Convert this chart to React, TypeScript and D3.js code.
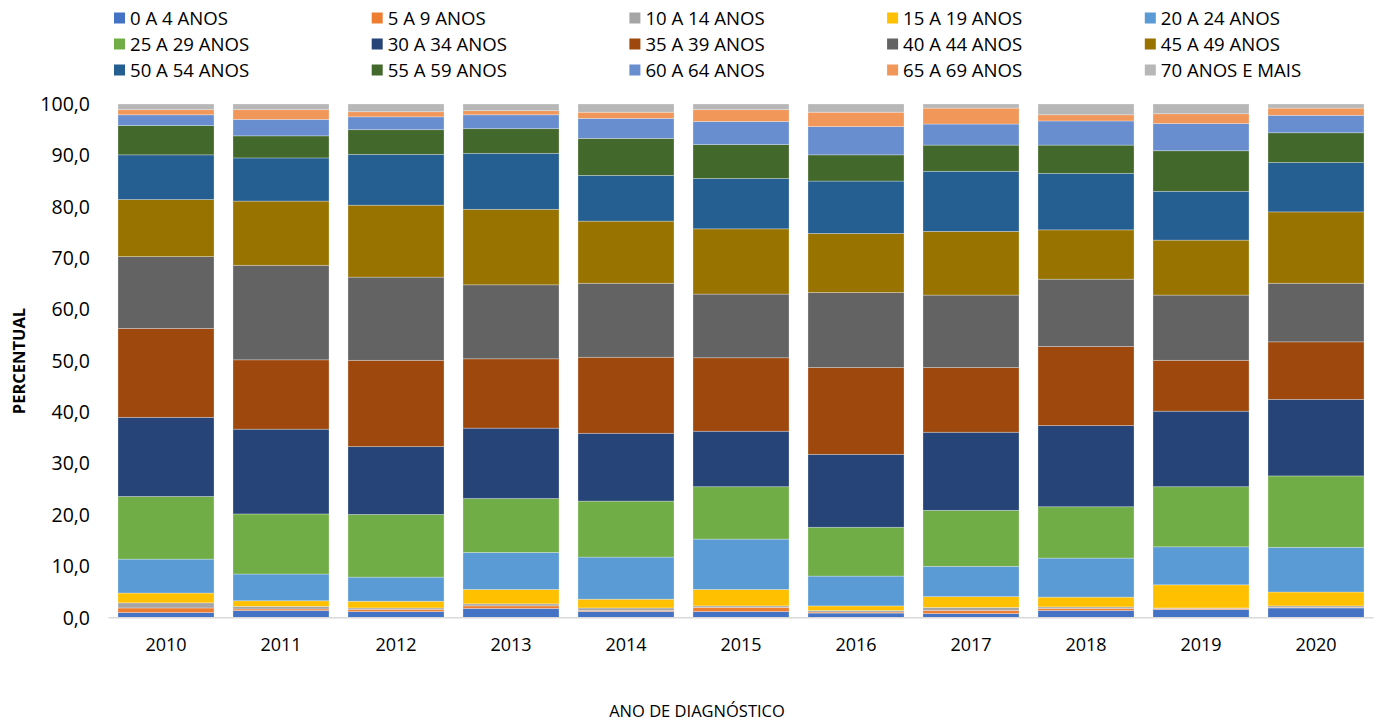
import React from 'react';
import * as d3 from 'd3';

const years = ['2010', '2011', '2012', '2013', '2014', '2015', '2016', '2017', '2018', '2019', '2020'];
const ageGroups = [
  '0 A 4 ANOS', '5 A 9 ANOS', '10 A 14 ANOS', '15 A 19 ANOS', '20 A 24 ANOS',
  '25 A 29 ANOS', '30 A 34 ANOS', '35 A 39 ANOS', '40 A 44 ANOS', '45 A 49 ANOS',
  '50 A 54 ANOS', '55 A 59 ANOS', '60 A 64 ANOS', '65 A 69 ANOS', '70 ANOS E MAIS',
];
const colors = [
  '#4472C4', '#ED7D31', '#A5A5A5', '#FFC000', '#5B9BD5',
  '#70AD47', '#264478', '#9E480E', '#636363', '#997300',
  '#255E91', '#43682B', '#698ED0', '#F1975A', '#B7B7B7',
];

const a0to4 = [1.0, 1.4, 1.2, 1.8, 1.2, 1.2, 0.9, 0.8, 1.4, 1.6, 1.9];
const a5to9 = [0.9, 0.3, 0.4, 0.5, 0.2, 0.8, 0.2, 0.6, 0.4, 0.2, 0.1];
const a10to14 = [1.0, 0.5, 0.3, 0.4, 0.5, 0.3, 0.3, 0.6, 0.3, 0.1, 0.3];
const a15to19 = [1.9, 1.1, 1.3, 2.8, 1.7, 3.2, 0.9, 2.1, 1.9, 4.5, 2.7];
const a20to24 = [6.6, 5.2, 4.7, 7.2, 8.2, 9.8, 5.8, 5.9, 7.6, 7.4, 8.7];
const a25to29 = [12.2, 11.7, 12.2, 10.5, 10.9, 10.2, 9.5, 10.9, 10.0, 11.7, 13.9];
const a30to34 = [15.4, 16.5, 13.2, 13.7, 13.2, 10.8, 14.2, 15.2, 15.8, 14.7, 14.9];
const a35to39 = [17.3, 13.5, 16.8, 13.5, 14.8, 14.3, 16.9, 12.6, 15.4, 9.9, 11.2];
const a40to44 = [14.0, 18.4, 16.2, 14.4, 14.4, 12.4, 14.6, 14.1, 13.1, 12.7, 11.4];
const a45to49 = [11.1, 12.5, 14.0, 14.7, 12.1, 12.7, 11.5, 12.4, 9.6, 10.7, 13.9];
const a50to54 = [8.7, 8.4, 9.9, 10.9, 8.9, 9.8, 10.2, 11.7, 11.0, 9.5, 9.6];
const a55to59 = [5.7, 4.3, 4.8, 4.8, 7.2, 6.6, 5.1, 5.1, 5.5, 7.9, 5.8];
const a60to64 = [2.1, 3.2, 2.5, 2.7, 3.9, 4.5, 5.5, 4.1, 4.7, 5.3, 3.4];
const a65to69 = [1.0, 1.9, 1.0, 0.8, 1.2, 2.3, 2.8, 3.1, 1.2, 1.9, 1.4];
const a70plus = [1.1, 1.1, 1.5, 1.3, 1.6, 1.1, 1.6, 0.8, 2.1, 1.9, 0.8];

const seriesValues = [
  a0to4, a5to9, a10to14, a15to19, a20to24, a25to29, a30to34, a35to39,
  a40to44, a45to49, a50to54, a55to59, a60to64, a65to69, a70plus,
];

const yTicks = [0, 10, 20, 30, 40, 50, 60, 70, 80, 90, 100];

const W = 1381;
const H = 722;
const FONT = '"Open Sans", "Noto Sans", sans-serif';

export default function App() {
  const keys = ageGroups.map((_, i) => 'k' + i);
  const table = years.map((yr, j) => {
    const row: any = { year: yr };
    seriesValues.forEach((arr, i) => { row['k' + i] = arr[j]; });
    return row;
  });
  const stacked = d3.stack<any>().keys(keys)(table);

  const x = d3.scaleBand<string>().domain(years).range([108.5, 1373.5]).paddingInner(0.165).paddingOuter(0.0825);
  const y = d3.scaleLinear().domain([0, 100]).range([617.7, 104]);
  const fmt = (v: number) => d3.format('.1f')(v).replace('.', ',');

  const legendX0 = 114;
  const legendStep = 257.7;
  const legendRows = [18, 44, 70];

  return (
    <svg width={W} height={H} style={{ position: 'absolute', left: 0, top: 0, background: '#fff' }} fontFamily={FONT}>
      {stacked.map((layer, i) => (
        <g key={layer.key} fill={colors[i]}>
          {layer.map((d, j) => (
            <rect
              key={j}
              x={x(years[j])}
              width={x.bandwidth()}
              y={y(d[1])}
              height={Math.max(0, y(d[0]) - y(d[1]))}
              stroke="#ffffff"
              strokeOpacity={0.35}
              strokeWidth={0.8}
            />
          ))}
        </g>
      ))}
      <line x1={108.5} x2={1373.5} y1={y(0)} y2={y(0)} stroke="#D9D9D9" strokeWidth={1.5} />
      {yTicks.map(t => (
        <text key={t} x={90} y={y(t)} dy="0.35em" textAnchor="end" fontSize={19.5} fill="#000">{fmt(t)}</text>
      ))}
      {years.map(yr => (
        <text key={yr} x={(x(yr) as number) + x.bandwidth() / 2} y={645} dy="0.35em" textAnchor="middle" fontSize={18} fill="#000">{yr}</text>
      ))}
      <text transform={`translate(19,361) rotate(-90)`} textAnchor="middle" dy="0.35em" fontSize={16.5} fontWeight="bold" fill="#000">PERCENTUAL</text>
      <text x={697} y={711} textAnchor="middle" dy="0.35em" fontSize={16.5} fill="#000">ANO DE DIAGNÓSTICO</text>
      {ageGroups.map((name, i) => {
        const col = i % 5;
        const row = Math.floor(i / 5);
        const lx = legendX0 + col * legendStep;
        const ly = legendRows[row];
        return (
          <g key={name}>
            <rect x={lx} y={ly - 5.5} width={11} height={11} fill={colors[i]} />
            <text x={lx + 16} y={ly} dy="0.35em" fontSize={18.6} fill="#000">{name}</text>
          </g>
        );
      })}
    </svg>
  );
}
